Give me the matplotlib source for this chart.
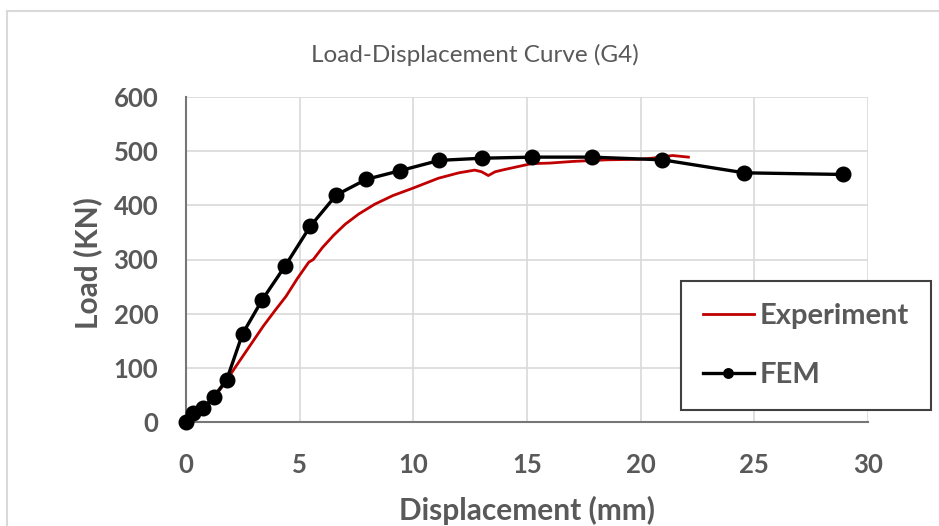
import numpy as np
import matplotlib.pyplot as plt
from matplotlib.lines import Line2D

# FEM results
fem_disp = [0, 0.32, 0.76, 1.23, 1.79, 2.49, 3.36, 4.36, 5.46, 6.61, 7.93, 9.42,
            11.14, 13.04, 15.24, 17.86, 20.96, 24.56, 28.9]
fem_load = [0, 16, 25, 47, 78, 163, 226, 288, 361, 419, 448, 464,
            483, 487, 489, 489, 484, 460, 457]

exp_disp = [0, 0.5, 1.0, 1.5, 1.8, 2.2, 2.8, 3.4, 3.9, 4.4, 4.9, 5.4, 5.6, 6.0,
            6.5, 7.0, 7.6, 8.3, 9.1, 10.0, 11.1, 12.0, 12.7, 13.0, 13.3, 13.6,
            14.0, 15.2, 16.0, 17.0, 18.5, 19.9, 20.5, 21.4, 22.1]
exp_load = [0, 12, 35, 60, 78, 103, 140, 177, 205, 232, 265, 295, 300, 322,
            345, 365, 384, 402, 418, 432, 450, 460, 465, 462, 455, 462,
            466, 477, 478, 481, 484, 485, 487, 492, 489]

gray = '#595959'
plt.rcParams['font.family'] = ['Lato', 'DejaVu Sans']

fig = plt.figure(figsize=(9.39, 5.26), dpi=100)
ax = fig.add_axes([186/939, 1 - 422/526, 682/939, 325/526])

ax.plot(exp_disp, exp_load, color='#C00000', lw=2.0, label='Experiment', zorder=3)
ax.plot(fem_disp, fem_load, color='black', lw=2.4, marker='o', markersize=10.5,
        label='FEM', zorder=4, clip_on=False)

ax.set_xlim(0, 30)
ax.set_ylim(0, 600)
ax.set_xticks(np.arange(0, 31, 5))
ax.set_yticks(np.arange(0, 601, 100))
ax.grid(True, color='#d9d9d9', lw=1.2)
ax.set_axisbelow(True)
for s in ['top', 'right']:
    ax.spines[s].set_visible(False)
for s in ['left', 'bottom']:
    ax.spines[s].set_color('#767676')
    ax.spines[s].set_linewidth(1.5)
ax.tick_params(length=0, labelsize=18.5, labelcolor=gray)
ax.tick_params(axis='x', pad=22)
ax.tick_params(axis='y', pad=20)
for lab in ax.get_xticklabels() + ax.get_yticklabels():
    lab.set_fontweight('bold')

ax.set_xlabel('Displacement (mm)', fontsize=21.5, fontweight='bold', color=gray)
ax.set_ylabel('Load (KN)', fontsize=21.5, fontweight='bold', color=gray)
ax.xaxis.set_label_coords(0.5, (422 - 510) / 325)
ax.xaxis.label.set_va('center')
ax.yaxis.set_label_coords((88 - 186) / 682, 0.49)
ax.yaxis.label.set_va('center')
fig.text(0.506, 1 - 55/526, 'Load-Displacement Curve (G4)', ha='center', va='center',
         fontsize=17.5, color=gray)

leg = ax.legend(loc='upper left', bbox_to_anchor=(681/939, 1 - 281/526),
                bbox_transform=fig.transFigure, borderaxespad=0, fancybox=False,
                framealpha=1, edgecolor='#404040', fontsize=21, handlelength=1.75,
                handletextpad=0.2, borderpad=0.75, labelspacing=1.15, markerscale=0.65)
leg.get_frame().set_linewidth(1.5)
for t in leg.get_texts():
    t.set_color(gray)
    t.set_fontweight('bold')

# chart area border
fig.add_artist(Line2D([7/939, 1], [1 - 11/526, 1 - 11/526], color='#d9d9d9', lw=1.5))
fig.add_artist(Line2D([7/939, 7/939], [0, 1 - 11/526], color='#d9d9d9', lw=1.5))

fig.savefig('out.png', dpi=100)
